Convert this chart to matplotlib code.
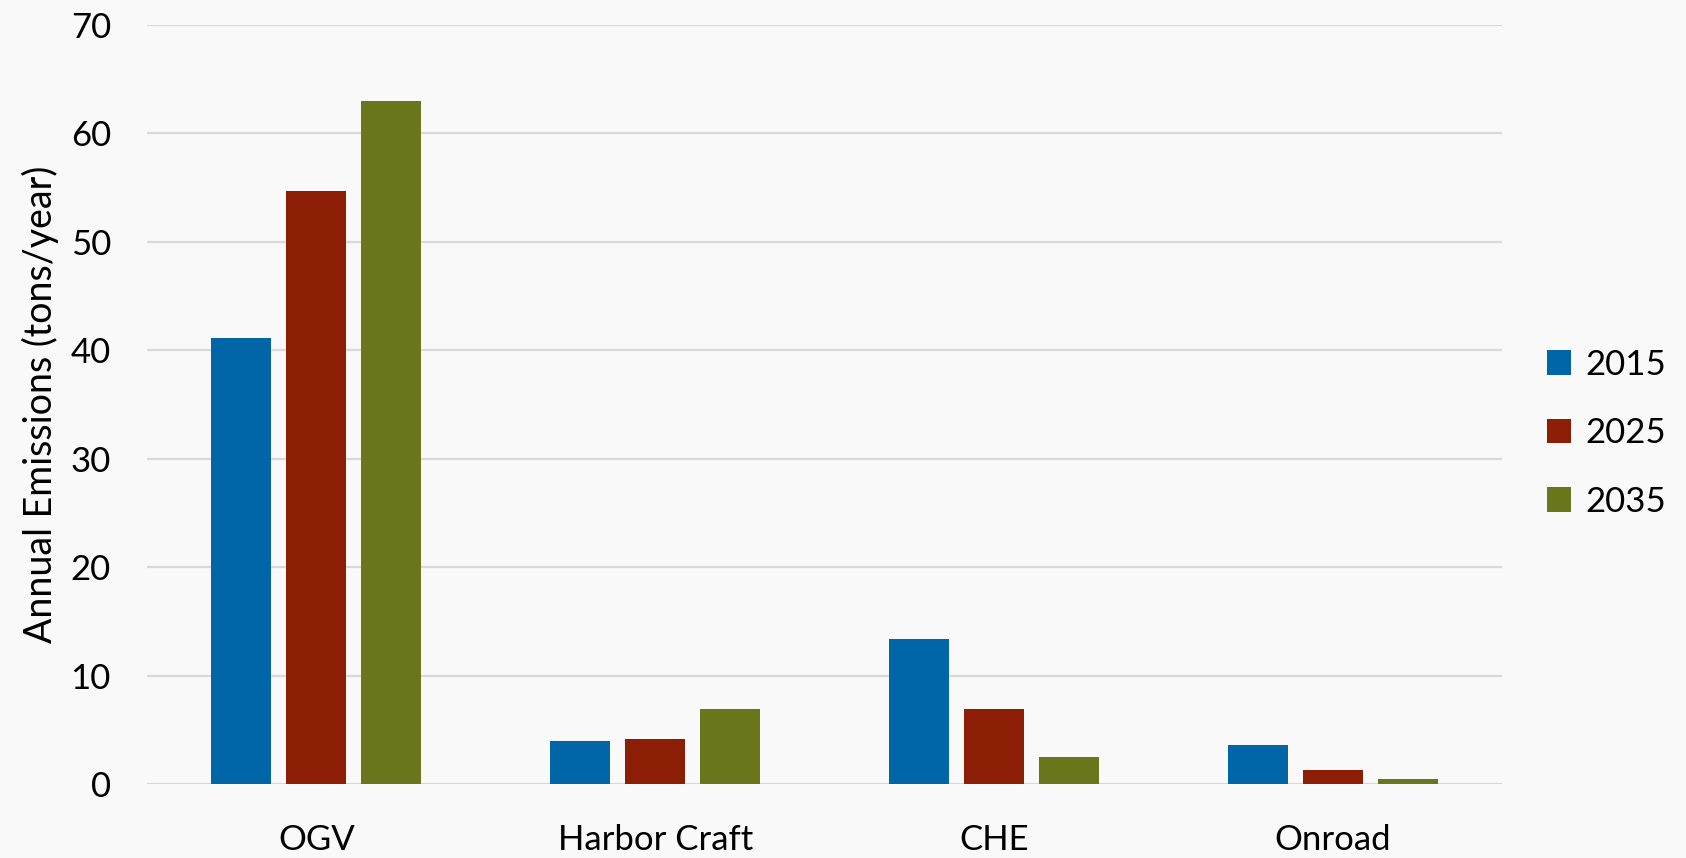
import numpy as np
import matplotlib.pyplot as plt

categories = ['OGV', 'Harbor Craft', 'CHE', 'Onroad']
years = ['2015', '2025', '2035']
em2015 = [41.1, 3.95, 13.35, 3.6]
em2025 = [54.65, 4.15, 6.9, 1.3]
em2035 = [63.0, 6.9, 2.5, 0.45]
colors = ['#0066A8', '#8B1E04', '#6A761C']

plt.rcParams['font.family'] = ['Lato', 'DejaVu Sans']

fig = plt.figure(figsize=(16.86, 8.58), dpi=100, facecolor='#F9F9F9')
ax = fig.add_axes([0.0872, 0.0862, 0.8037, 0.8851])
ax.set_facecolor('#F9F9F9')

ind = np.arange(len(categories))
width = 0.177
step = 0.2214
bars = []
for i, (vals, c) in enumerate(zip([em2015, em2025, em2035], colors)):
    b = ax.bar(ind + (i - 1) * step, vals, width, color=c, zorder=3)
    bars.append(b)

ax.set_xlim(-0.5, len(categories) - 0.5)
ax.set_ylim(0, 70)
ax.set_yticks(range(0, 71, 10))
ax.yaxis.grid(True, color='#D9D9D9', linewidth=1.6, zorder=0)
ax.set_axisbelow(True)
for s in ax.spines.values():
    s.set_visible(False)
ax.tick_params(length=0, labelsize=25, colors='black')
ax.tick_params(axis='x', pad=29)
ax.tick_params(axis='y', pad=26)
ax.set_xticks(ind)
ax.set_xticklabels(categories)
ax.set_ylabel('Annual Emissions (tons/year)', fontsize=27, labelpad=8)

leg = ax.legend([b[0] for b in bars], years, loc='center left',
                bbox_to_anchor=(1.01, 0.462), frameon=False, fontsize=25,
                handlelength=0.7, handleheight=0.7, handletextpad=0.4,
                labelspacing=1.05)

fig.savefig('out.png', dpi=100, facecolor=fig.get_facecolor())
